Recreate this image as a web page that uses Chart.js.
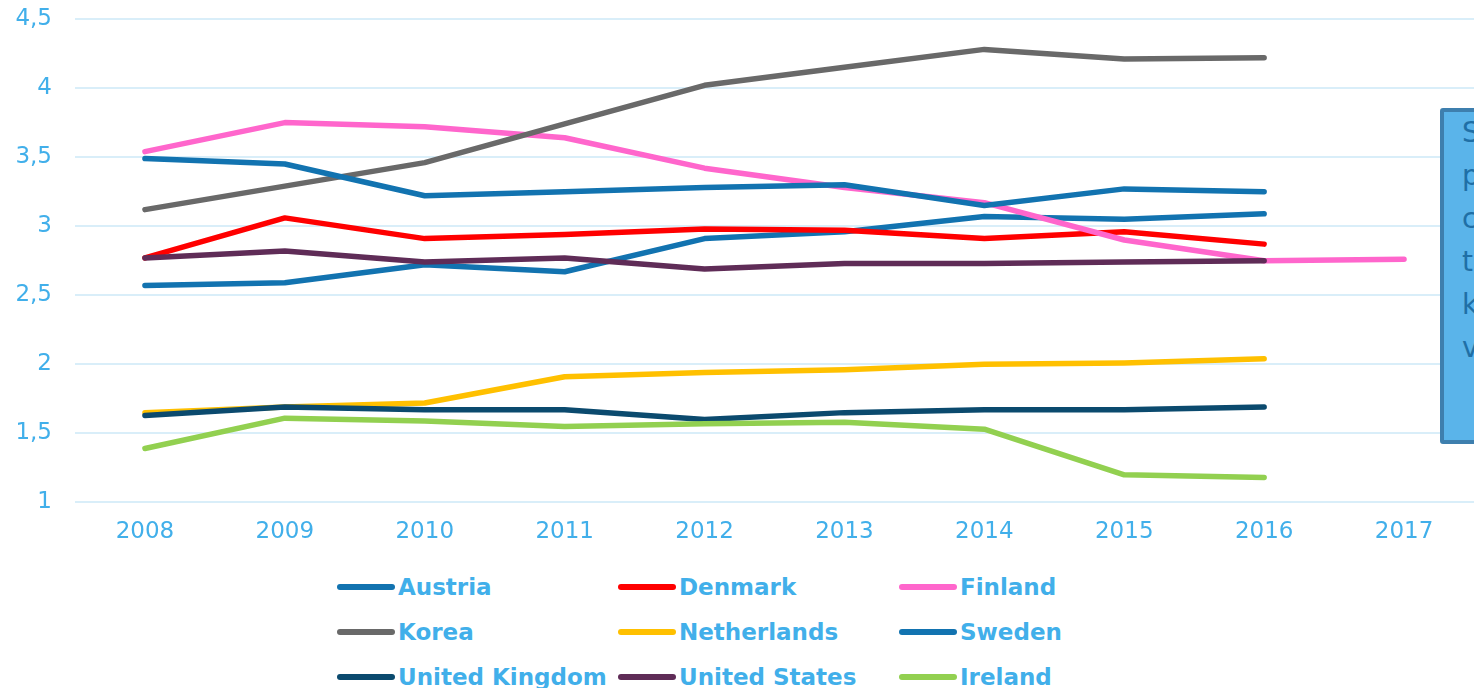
<!DOCTYPE html>
<html>
<head>
<meta charset="utf-8">
<script src="https://cdn.jsdelivr.net/npm/chart.js@4.4.1/dist/chart.umd.min.js"></script>
<style>
    html, body {
        margin: 0;
        padding: 0;
        width: 1474px;
        height: 688px;
        overflow: hidden;
        background: #ffffff;
        font-family: "DejaVu Sans", Verdana, sans-serif;
    }
    #chart-wrap {
        position: absolute;
        left: 0;
        top: 0;
        width: 1474px;
        height: 562px;
    }
    #legend {
        position: absolute;
        left: 337px;
        top: 564px;
        display: grid;
        grid-template-columns: 281px 281px 281px;
        grid-auto-rows: 45px;
    }
    .legend-item {
        display: flex;
        align-items: center;
        white-space: nowrap;
        color: #41afea;
        font-weight: bold;
        font-size: 23px;
    }
    .legend-line {
        width: 58px;
        height: 6px;
        border-radius: 3px;
        margin-right: 3px;
        flex: none;
    }
    #callout {
        position: absolute;
        left: 1440px;
        top: 108px;
        width: 120px;
        height: 328px;
        background: #5ab4ea;
        border: 4px solid #3e7fae;
        border-radius: 3px;
    }
    #callout-text {
        position: absolute;
        left: 1462px;
        top: 111px;
        color: #1f6fa6;
        font-size: 28px;
        line-height: 43px;
    }
</style>
</head>
<body>
<div id="chart-wrap"><canvas id="chart-rd"></canvas></div>
<div id="legend"></div>
<div id="callout"></div>
<div id="callout-text">S<br>p<br>c<br>t<br>k<br>v</div>

<script>
const years = ['2008', '2009', '2010', '2011', '2012', '2013', '2014', '2015', '2016', '2017'];
const yTicks = [1, 1.5, 2, 2.5, 3, 3.5, 4, 4.5];

const countries = ['Austria', 'Denmark', 'Finland', 'Korea', 'Netherlands', 'Sweden', 'United Kingdom', 'United States', 'Ireland'];
const austria = [2.57, 2.59, 2.72, 2.67, 2.91, 2.96, 3.07, 3.05, 3.09];
const denmark = [2.77, 3.06, 2.91, 2.94, 2.98, 2.97, 2.91, 2.96, 2.87];
const finland = [3.54, 3.75, 3.72, 3.64, 3.42, 3.28, 3.17, 2.90, 2.75, 2.76];
const korea = [3.12, 3.29, 3.46, 3.74, 4.02, 4.15, 4.28, 4.21, 4.22];
const netherlands = [1.65, 1.69, 1.72, 1.91, 1.94, 1.96, 2.00, 2.01, 2.04];
const sweden = [3.49, 3.45, 3.22, 3.25, 3.28, 3.30, 3.15, 3.27, 3.25];
const unitedKingdom = [1.63, 1.69, 1.67, 1.67, 1.60, 1.65, 1.67, 1.67, 1.69];
const unitedStates = [2.77, 2.82, 2.74, 2.77, 2.69, 2.73, 2.73, 2.74, 2.75];
const ireland = [1.39, 1.61, 1.59, 1.55, 1.57, 1.58, 1.53, 1.20, 1.18];

const seriesValues = [austria, denmark, finland, korea, netherlands, sweden, unitedKingdom, unitedStates, ireland];
const seriesColors = ['#1273b0', '#ff0000', '#ff66cc', '#696969', '#ffc000', '#1273b0', '#0b4a6e', '#5f2c57', '#92d050'];

const textColor = '#41afea';
const gridColor = '#d9eef9';

document.addEventListener('DOMContentLoaded', () => {
    const chart = buildChart();
    buildLegend(chart);
});

function buildChart() {
    const ctx = document.getElementById('chart-rd').getContext('2d');

    // later series sit on top, like the original sheet
    const datasets = countries.map((name, i) => ({
        label: name,
        data: seriesValues[i],
        borderColor: seriesColors[i],
        backgroundColor: seriesColors[i],
        borderWidth: 5.5,
        borderCapStyle: 'round',
        borderJoinStyle: 'round',
        pointRadius: 0,
        pointHoverRadius: 0,
        tension: 0,
        order: countries.length - i
    }));

    return new Chart(ctx, {
        type: 'line',
        data: { labels: years, datasets: datasets },
        options: {
            responsive: true,
            maintainAspectRatio: false,
            animation: false,
            layout: { padding: { top: 19, right: 0, left: 0, bottom: 0 } },
            plugins: {
                legend: { display: false },
                tooltip: { enabled: false }
            },
            scales: {
                x: {
                    offset: true,
                    grid: { display: false, drawTicks: false },
                    border: { display: false },
                    ticks: {
                        color: textColor,
                        padding: 16,
                        font: { family: 'DejaVu Sans', size: 23 }
                    }
                },
                y: {
                    min: yTicks[0],
                    max: yTicks[yTicks.length - 1],
                    afterFit: (scale) => {
                        scale.width = 75;
                        scale.paddingTop = 0;
                        scale.paddingBottom = 0;
                    },
                    afterBuildTicks: (scale) => {
                        scale.ticks = yTicks.map(v => ({ value: v }));
                    },
                    grid: { color: gridColor, lineWidth: 2, drawTicks: false },
                    border: { display: false },
                    ticks: {
                        color: textColor,
                        padding: 23,
                        font: { family: 'DejaVu Sans', size: 23 },
                        callback: (v) => String(v).replace('.', ',')
                    }
                }
            }
        }
    });
}

function buildLegend(chart) {
    const legend = document.getElementById('legend');
    legend.innerHTML = '';
    chart.data.datasets.forEach(ds => {
        const item = document.createElement('div');
        item.className = 'legend-item';
        item.innerHTML = `<span class="legend-line" style="background:${ds.borderColor}"></span><span>${ds.label}</span>`;
        legend.appendChild(item);
    });
}
</script>
</body>
</html>
